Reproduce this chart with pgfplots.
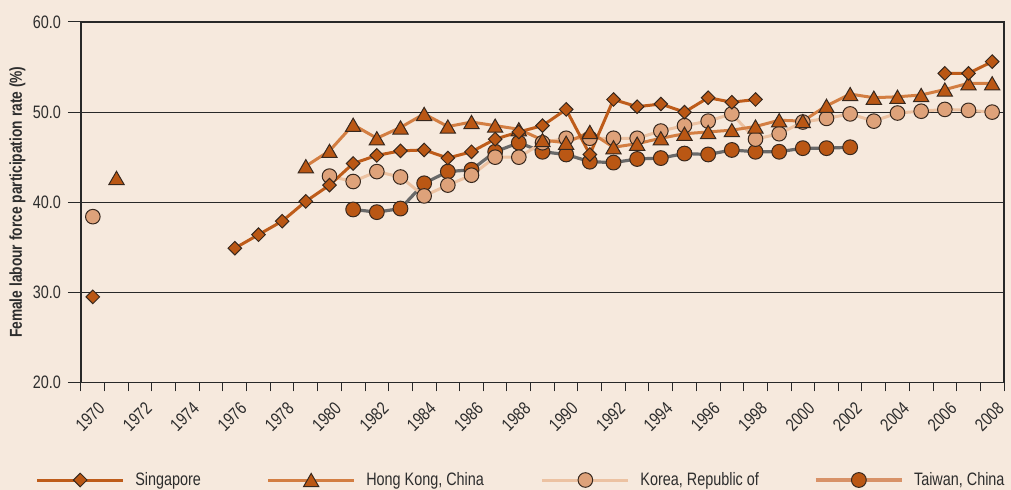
\documentclass[border=0pt]{standalone}
\usepackage{fontspec}
\setmainfont{Liberation Sans}[FakeStretch=0.8]
\usepackage{pgfplots}
\pgfplotsset{compat=1.18}
\usetikzlibrary{backgrounds}

\definecolor{bgc}{RGB}{246,233,221}
\definecolor{axc}{RGB}{40,40,40}
\definecolor{txt}{RGB}{45,45,45}
\definecolor{dorange}{RGB}{186,87,20}
\definecolor{sgline}{RGB}{190,92,26}
\definecolor{hkline}{RGB}{211,126,66}
\definecolor{krfill}{RGB}{222,162,122}
\definecolor{krline}{RGB}{236,194,162}
\definecolor{twline}{RGB}{105,105,105}
\definecolor{twleg}{RGB}{216,146,104}
\definecolor{mkd}{RGB}{55,40,30}

\begin{document}
\begin{tikzpicture}
\pgfplotsset{
  leg/.style={legend image code/.code={%
    \draw[mark repeat=2,mark phase=2,#1] plot coordinates {(0pt,0pt) (21.5pt,0pt) (43pt,0pt)};}},
}
\begin{axis}[
  scale only axis,
  width=461.5pt, height=180.25pt,
  xmin=1969.5, xmax=2008.5,
  ymin=20, ymax=60,
  xtick={1970,1972,...,2008},
  minor xtick={1969.5,1970.5,...,2008.5},
  ytick={20,30,40,50,60},
  tick align=outside,
  xtick pos=bottom, ytick pos=left,
  major tick length=6.5pt,
  minor tick length=4.5pt,
  major x tick style={draw=none},
  minor x tick style={draw=axc, line width=0.5pt},
  major y tick style={draw=axc, line width=0.5pt},
  ymajorgrids,
  major grid style={draw=axc, line width=0.5pt},
  axis line style={draw=axc, line width=0.6pt},
  /pgf/number format/assume math mode=true,
  tick label style={font=\fontsize{9}{10}\selectfont, text=txt},
  xticklabel style={/pgf/number format/1000 sep={}, xshift=2pt, yshift=-1pt, rotate=45, anchor=north east, inner sep=1pt},
  yticklabel style={/pgf/number format/.cd, fixed, fixed zerofill, precision=1},
  ylabel={Female labour force participation rate (\%)},
  ylabel style={at={(axis description cs:-0.0688,0.5)}, anchor=center,
    font=\fontsize{8.6}{9}\selectfont\bfseries, text=txt},
  unbounded coords=jump,
  legend columns=4,
  reverse legend,
  legend cell align=left,
  legend style={at={(axis description cs:-0.0491,-0.2705)}, anchor=west,
    draw=none, fill=none, inner sep=0pt, outer sep=0pt,
    column sep=0pt, row sep=0pt,
    nodes={inner sep=0pt, font=\fontsize{9}{10}\selectfont, text=txt}},
]
% Taiwan, China
\addplot[draw=twline, line width=1.6pt, mark=*, mark size=3.7pt,
  mark options={solid, fill=dorange, draw=mkd, line width=0.5pt},
  leg={draw=twleg}] coordinates {
 (1981,39.2)(1982,38.9)(1983,39.3)(1984,42.1)(1985,43.4)(1986,43.6)(1987,45.6)
 (1988,46.6)(1989,45.6)(1990,45.3)(1991,44.5)(1992,44.4)(1993,44.8)(1994,44.9)
 (1995,45.4)(1996,45.3)(1997,45.8)(1998,45.6)(1999,45.6)(2000,46.0)(2001,46.0)
 (2002,46.1)
};
\addlegendentry{\hspace{5.3pt}Taiwan, China}
% Korea, Republic of
\addplot[draw=krline, line width=1.5pt, mark=*, mark size=3.65pt,
  mark options={solid, fill=krfill, draw=mkd, line width=0.5pt},
  leg={}] coordinates {
 (1970,38.4)(1971,nan)
 (1980,42.9)(1981,42.3)(1982,43.4)(1983,42.8)(1984,40.7)(1985,41.9)(1986,43.0)
 (1987,45.0)(1988,45.0)(1989,46.6)(1990,47.1)(1991,47.1)(1992,47.1)(1993,47.1)
 (1994,47.9)(1995,48.5)(1996,49.0)(1997,49.8)(1998,47.0)(1999,47.6)(2000,48.9)
 (2001,49.3)(2002,49.8)(2003,49.0)(2004,49.9)(2005,50.1)(2006,50.3)(2007,50.2)
 (2008,50.0)
};
\addlegendentry{\makebox[92.2pt][l]{\hspace{5.3pt}Korea, Republic of}}
% Hong Kong, China
\addplot[draw=hkline, line width=1.5pt, mark=triangle*, mark size=4.4pt,
  mark options={solid, fill=dorange, draw=mkd, line width=0.5pt, yshift=-1.1pt},
  leg={}] coordinates {
 (1971,42.7)(1972,nan)
 (1979,44.0)(1980,45.7)(1981,48.6)(1982,47.1)(1983,48.3)(1984,49.8)(1985,48.4)
 (1986,48.9)(1987,48.5)(1988,48.1)(1989,46.9)(1990,46.6)(1991,47.8)(1992,46.1)
 (1993,46.5)(1994,47.1)(1995,47.6)(1996,47.8)(1997,48.0)(1998,48.4)(1999,49.1)
 (2000,49.0)(2001,50.7)(2002,52.0)(2003,51.6)(2004,51.7)(2005,51.9)(2006,52.5)
 (2007,53.2)(2008,53.2)
};
\addlegendentry{\makebox[92.6pt][l]{\hspace{5.3pt}Hong Kong, China}}
% Singapore
\addplot[draw=sgline, line width=1.5pt, mark=square*, mark size=2.4pt,
  mark options={solid, rotate=45, fill=dorange, draw=mkd, line width=0.5pt},
  leg={}] coordinates {
 (1970,29.5)(1971,nan)
 (1976,34.9)(1977,36.4)(1978,37.9)(1979,40.1)(1980,41.9)(1981,44.3)(1982,45.2)
 (1983,45.7)(1984,45.8)(1985,44.9)(1986,45.6)(1987,47.0)(1988,47.8)(1989,48.5)
 (1990,50.3)(1991,45.3)(1992,51.4)(1993,50.6)(1994,50.9)(1995,50.0)(1996,51.6)
 (1997,51.1)(1998,51.4)(1999,nan)
 (2006,54.3)(2007,54.3)(2008,55.6)
};
\addlegendentry{\makebox[71pt][l]{\hspace{5.3pt}Singapore}}
\coordinate (bl) at ([xshift=-40.5pt,yshift=-53.75pt]rel axis cs:0,0);
\coordinate (tr) at ([xshift=3.5pt,yshift=11pt]rel axis cs:1,1);
\end{axis}
\begin{scope}[on background layer]
\fill[bgc] (bl) rectangle (tr);
\end{scope}
\pgfresetboundingbox
\path[use as bounding box] (bl) rectangle (tr);
\end{tikzpicture}
\end{document}
